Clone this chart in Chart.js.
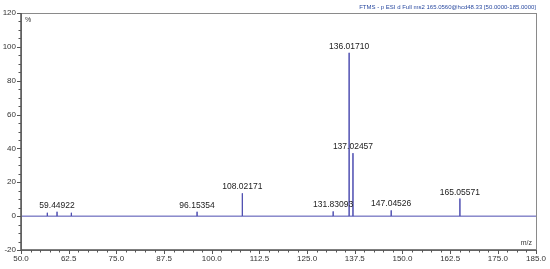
<!DOCTYPE html>
<html>
<head>
<meta charset="utf-8">
<script src="https://cdn.jsdelivr.net/npm/chart.js@4"></script>
<style>
  html, body { margin: 0; padding: 0; background: #fff; }
  #wrap { width: 550px; height: 269px; }
</style>
</head>
<body>
<div id="wrap"><canvas id="spectrum"></canvas></div>
<script>
// peaks
const peakMz = [56.9, 59.44922, 63.2, 96.15354, 108.02171, 131.83093, 136.01710, 137.02457, 147.04526, 165.05571];
const peakIntensity = [2.0, 2.6, 2.0, 2.6, 13.5, 2.8, 96.5, 37.2, 3.4, 10.4];
const peakLabels = ['', '59.44922', '', '96.15354', '108.02171', '131.83093', '136.01710', '137.02457', '147.04526', '165.05571'];

const xTicks = [50.0, 62.5, 75.0, 87.5, 100.0, 112.5, 125.0, 137.5, 150.0, 162.5, 175.0, 185.0];
const yTicks = [-20, 0, 20, 40, 60, 80, 100, 120];
const scanTitle = 'FTMS - p ESI d Full ms2 165.0560@hcd48.33 [50.0000-185.0000]';

const lineColor = '#4d4db0';
const fontFamily = 'Arial, "Liberation Sans", sans-serif';

// stick spectrum as one polyline: baseline with a spike at each peak
const points = [{ x: xTicks[0], y: 0 }];
peakMz.forEach(function(mz, i) {
    points.push({ x: mz, y: 0 });
    points.push({ x: mz, y: peakIntensity[i] });
    points.push({ x: mz, y: 0 });
});
points.push({ x: xTicks[xTicks.length - 1], y: 0 });

const decorPlugin = {
    id: 'decor',
    afterDatasetsDraw(chart) {
        const ctx = chart.ctx;
        const area = chart.chartArea;
        const xs = chart.scales.x;
        const ys = chart.scales.y;
        ctx.save();

        // frame
        ctx.strokeStyle = '#8a8a8a';
        ctx.lineWidth = 1;
        ctx.strokeRect(Math.round(area.left) + 0.5, Math.round(area.top) + 0.5,
            Math.round(area.right - area.left), Math.round(area.bottom - area.top));
        ctx.strokeStyle = '#555';
        ctx.lineWidth = 1.5;
        ctx.beginPath();
        ctx.moveTo(area.left, area.top);
        ctx.lineTo(area.left, area.bottom);
        ctx.lineTo(area.right, area.bottom);
        ctx.stroke();

        // x ticks, minor every 2.5
        ctx.lineWidth = 1;
        ctx.strokeStyle = '#555';
        ctx.beginPath();
        for (let v = 50; v <= 185.001; v += 2.5) {
            const px = Math.round(xs.getPixelForValue(v)) + 0.5;
            const major = xTicks.some(t => Math.abs(t - v) < 0.01);
            ctx.moveTo(px, area.bottom);
            ctx.lineTo(px, area.bottom + (major ? 4 : 2.5));
        }
        const endPx = Math.round(xs.getPixelForValue(185)) + 0.5;
        ctx.moveTo(endPx, area.bottom);
        ctx.lineTo(endPx, area.bottom + 4);
        // y ticks, minor every 5
        for (let v = -20; v <= 120; v += 5) {
            const py = Math.round(ys.getPixelForValue(v)) + 0.5;
            const major = v % 20 === 0;
            ctx.moveTo(area.left, py);
            ctx.lineTo(area.left - (major ? 4 : 2.5), py);
        }
        ctx.stroke();

        // peak labels
        ctx.fillStyle = '#222';
        ctx.font = '8.5px ' + fontFamily;
        ctx.textAlign = 'center';
        ctx.textBaseline = 'bottom';
        peakMz.forEach(function(mz, i) {
            if (!peakLabels[i]) return;
            const px = xs.getPixelForValue(mz);
            const py = ys.getPixelForValue(peakIntensity[i]);
            ctx.fillText(peakLabels[i], px, py - 2);
        });

        // corner texts
        ctx.font = '7px ' + fontFamily;
        ctx.textAlign = 'left';
        ctx.textBaseline = 'top';
        ctx.fillStyle = '#333';
        ctx.fillText('%', area.left + 4, area.top + 4);
        ctx.textAlign = 'right';
        ctx.textBaseline = 'bottom';
        ctx.fillText('m/z', area.right - 4, area.bottom - 3);

        ctx.fillStyle = '#2a4aa0';
        ctx.font = '6px ' + fontFamily;
        ctx.textBaseline = 'bottom';
        ctx.fillText(scanTitle, area.right, area.top - 3);
        ctx.restore();
    }
};

new Chart(document.getElementById('spectrum'), {
    type: 'scatter',
    data: {
        datasets: [{
            data: points,
            showLine: true,
            borderColor: lineColor,
            borderWidth: 1,
            pointRadius: 0,
            tension: 0
        }]
    },
    options: {
        responsive: true,
        maintainAspectRatio: false,
        animation: false,
        layout: { padding: { top: 13, right: 12, left: 0, bottom: 0 } },
        plugins: { legend: { display: false }, tooltip: { enabled: false } },
        scales: {
            x: {
                type: 'linear',
                min: 50,
                max: 185,
                afterBuildTicks: function(scale) {
                    scale.ticks = xTicks.map(v => ({ value: v }));
                },
                afterFit: function(scale) { scale.height = 19; },
                grid: { display: false, drawTicks: false },
                border: { display: false },
                ticks: {
                    autoSkip: false,
                    maxRotation: 0,
                    padding: 4,
                    color: '#333',
                    font: { family: fontFamily, size: 8 },
                    callback: v => Number(v).toFixed(1)
                }
            },
            y: {
                min: -20,
                max: 120,
                afterBuildTicks: function(scale) {
                    scale.ticks = yTicks.map(v => ({ value: v }));
                },
                afterFit: function(scale) { scale.width = 21; },
                grid: { display: false, drawTicks: false },
                border: { display: false },
                ticks: {
                    padding: 5,
                    color: '#333',
                    font: { family: fontFamily, size: 8 }
                }
            }
        }
    },
    plugins: [decorPlugin]
});
</script>
</body>
</html>
